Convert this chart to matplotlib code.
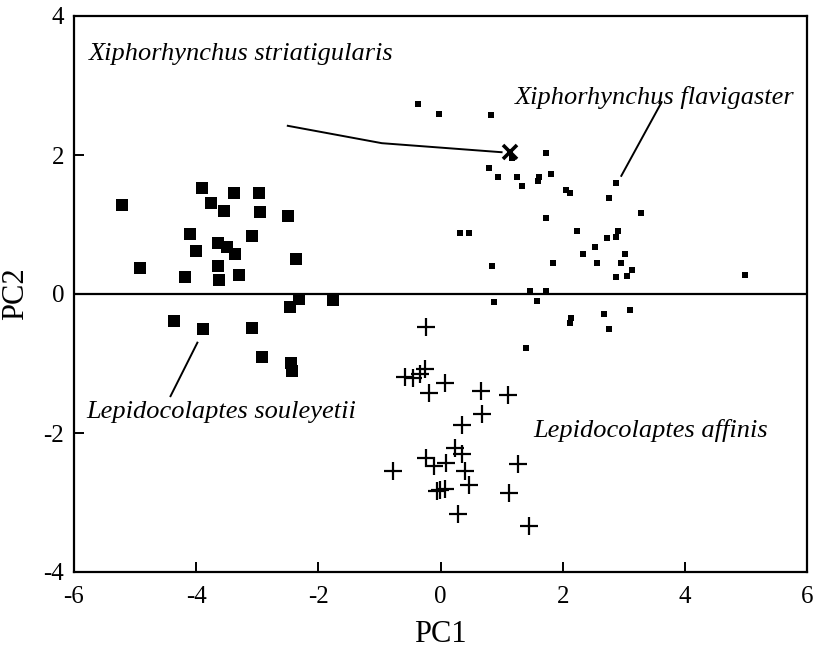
import matplotlib
matplotlib.use("Agg")
import matplotlib.pyplot as plt

# L. souleyetii (large squares)
souleyetii_x = [-5.21, -3.90, -3.38, -2.97, -3.75, -3.54, -2.96, -2.50, -4.10, -3.09,
                -3.64, -3.49, -3.36, -4.01, -2.37, -4.92, -3.64, -3.30, -4.18, -3.63,
                -2.31, -1.76, -2.47, -4.37, -3.89, -3.08, -2.92, -2.44, -2.43]
souleyetii_y = [1.28, 1.52, 1.45, 1.45, 1.31, 1.20, 1.18, 1.12, 0.86, 0.83,
                0.74, 0.67, 0.57, 0.62, 0.50, 0.37, 0.40, 0.28, 0.24, 0.20,
                -0.07, -0.08, -0.19, -0.39, -0.50, -0.49, -0.91, -0.99, -1.11]

# X. flavigaster (small squares)
flavigaster_x = [-0.37, -0.02, 0.82, 1.72, 0.79, 0.94, 1.25, 1.33, 1.62, 1.59,
                 1.81, 2.05, 2.12, 2.88, 2.76, 3.29, 1.72, 0.32, 0.47, 2.23,
                 2.91, 2.88, 2.73, 2.53, 2.34, 3.02, 2.57, 2.95, 0.84, 1.84,
                 2.88, 3.05, 3.13, 1.47, 1.72, 0.88, 1.58, 2.13, 2.12, 2.67,
                 3.10, 2.76, 1.40, 4.98, 1.17]
flavigaster_y = [2.74, 2.59, 2.57, 2.03, 1.82, 1.69, 1.69, 1.56, 1.68, 1.63,
                 1.73, 1.49, 1.46, 1.60, 1.38, 1.16, 1.10, 0.88, 0.88, 0.90,
                 0.90, 0.82, 0.80, 0.67, 0.58, 0.58, 0.44, 0.44, 0.41, 0.45,
                 0.25, 0.26, 0.34, 0.05, 0.05, -0.12, -0.10, -0.35, -0.42, -0.29,
                 -0.23, -0.50, -0.77, 0.28, 1.96]

# L. affinis (crosses)
affinis_x = [-0.24, -0.25, -0.58, -0.45, -0.34, -0.19, 0.07, 0.66, 1.10, 0.68,
             0.35, 0.24, 0.36, -0.24, -0.11, 0.09, 0.40, -0.77, 1.27, 0.47,
             -0.01, 0.07, -0.05, 1.12, 0.28, 1.45]
affinis_y = [-0.48, -1.08, -1.19, -1.21, -1.15, -1.42, -1.28, -1.40, -1.45, -1.73,
             -1.89, -2.21, -2.30, -2.36, -2.47, -2.43, -2.55, -2.55, -2.44, -2.75,
             -2.82, -2.81, -2.83, -2.86, -3.17, -3.34]

# X. striatigularis (single x)
striatigularis_x = [1.14]
striatigularis_y = [2.04]

xticks = [-6, -4, -2, 0, 2, 4, 6]
yticks = [-4, -2, 0, 2, 4]

plt.rcParams['font.family'] = ['Liberation Serif', 'DejaVu Serif']

fig = plt.figure(figsize=(8.16, 6.59), dpi=100)
ax = fig.add_axes([74/816, 87/659, 733/816, 556/659])

ax.axhline(0, color='black', lw=1.6, zorder=1)

ax.plot(souleyetii_x, souleyetii_y, 's', color='black', markersize=8.5, mew=0, zorder=3)
ax.plot(flavigaster_x, flavigaster_y, 's', color='black', markersize=5, mew=0, zorder=3)
ax.plot(affinis_x, affinis_y, '+', color='black', markersize=13, mew=1.6, zorder=3)
ax.plot(striatigularis_x, striatigularis_y, 'x', color='black', markersize=10, mew=2.6, zorder=4)

# leader lines
ax.plot([-2.50, -0.96, 1.00], [2.42, 2.17, 2.04], color='black', lw=1.4, zorder=2)
ax.plot([2.96, 3.62], [1.70, 2.76], color='black', lw=1.4, zorder=2)
ax.plot([-3.98, -4.42], [-0.70, -1.47], color='black', lw=1.4, zorder=2)

lab = dict(fontsize=19, style='italic', color='black')
ax.text(-5.75, 3.45, 'Xiphorhynchus striatigularis', ha='left', va='center', **lab)
ax.text(1.22, 2.83, 'Xiphorhynchus flavigaster', ha='left', va='center', **lab)
ax.text(-5.80, -1.70, 'Lepidocolaptes souleyetii', ha='left', va='center', **lab)
ax.text(1.52, -1.97, 'Lepidocolaptes affinis', ha='left', va='center', **lab)

ax.set_xlim(-6, 6)
ax.set_ylim(-4, 4)
ax.set_xticks(xticks)
ax.set_yticks(yticks)
ax.set_xticklabels([str(t) for t in xticks])
ax.set_yticklabels([str(t) for t in yticks])
ax.tick_params(direction='in', length=7, width=1.4, labelsize=18, top=False, right=False)
ax.tick_params(axis='x', pad=10)
ax.tick_params(axis='y', pad=7)
for s in ax.spines.values():
    s.set_linewidth(1.6)

ax.set_xlabel('PC1', fontsize=22, labelpad=9)
ax.set_ylabel('PC2', fontsize=22, labelpad=10)

fig.savefig('out.png', dpi=100)
